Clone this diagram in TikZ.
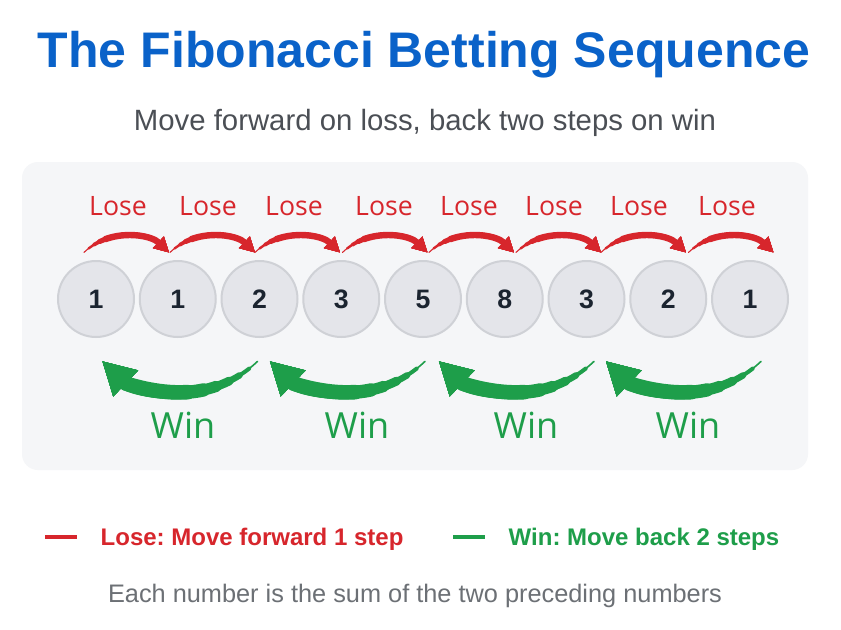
\documentclass[tikz,border=0pt]{standalone}
\usepackage{fontspec}
\setmainfont{Liberation Sans}
\newfontfamily\opensans{Open Sans}
\usetikzlibrary{arrows.meta}

\definecolor{titleBlue}{HTML}{0A62C9}
\definecolor{subInk}{HTML}{4B4F55}
\definecolor{footInk}{HTML}{6C7075}
\definecolor{panelFill}{HTML}{F5F6F8}
\definecolor{ballFill}{HTML}{E4E5EA}
\definecolor{ballLine}{HTML}{CFD1D6}
\definecolor{numInk}{HTML}{1B2430}
\definecolor{loseRed}{HTML}{D7262C}
\definecolor{winGreen}{HTML}{1E9E4A}

\begin{document}
\frenchspacing
\begin{tikzpicture}[x=0.75pt,y=0.75pt,
        numNode/.style = {circle,fill=ballFill,draw=ballLine,line width=1.5pt,minimum size=57pt,inner sep=0pt,
                          text=numInk,font=\fontsize{20}{20}\selectfont\bfseries},
        loseLabel/.style = {anchor=base,text=loseRed,font=\opensans\fontsize{20}{20}\selectfont},
        winLabel/.style = {anchor=base,text=winGreen,font=\opensans\fontsize{27}{27}\selectfont},
        loseArrow/.style = {draw=loseRed,line cap=round,-{Triangle[length=11pt,width=12pt,line width=0.3pt]}},
        winArrow/.style = {draw=winGreen,line cap=round,-{Triangle[length=24pt,width=27pt,line width=0.3pt]}},
        legendText/.style = {anchor=base west,font=\fontsize{18}{18}\selectfont\bfseries},
        swatch/.style = {line width=2.5pt}
        ]
        \useasboundingbox (0,0) rectangle (841,-629);
        \fill[white] (0,0) rectangle (841,-629);
        \fill[panelFill,rounded corners=12pt] (22,-162) rectangle (808,-470);

        % heading
        \node[anchor=base,text=titleBlue,font=\fontsize{37.5}{40}\selectfont\bfseries] (title) at (424,-67)
            {The Fibonacci Betting Sequence};
        \node[anchor=base,text=subInk,font=\fontsize{22}{24}\selectfont] (subtitle) at (425,-130)
            {Move forward on loss, back two steps on win};

        % the sequence
        \foreach \v [count=\i from 0] in {1,1,2,3,5,8,3,2,1}
            \node[numNode] (n\i) at (96+81.75*\i,-299) {\v};

        % lose arrows, tapered from thin tail to thick head
        \foreach \tx/\hx/\lx [count=\i] in {85/168/118,172/253/208,257/338/294,343/427/384,
                                             430/513/469,517/600/554,602/685/639,690/772/727} {
            \coordinate (lc\i) at ({(\tx+\hx)/2},-297);
            \node[loseLabel] (lose\i) at (\lx,-215) {Lose};
            \foreach \w/\a in {0.8/133.6,1.8/128,2.8/122,3.8/116,4.8/110}
                \draw[loseArrow,line width=\w pt] ([shift={(\a:61.6)}]lc\i) arc[start angle=\a,end angle=46.4,radius=61.6];
        }

        % win arrows
        \foreach \tx/\hx/\lx [count=\i] in {258/102/183,425/270/357,593/440/526,760/607/688} {
            \coordinate (wc\i) at ({(\tx+\hx)/2},-280);
            \node[winLabel] (win\i) at (\lx,-438) {Win};
            \foreach \w/\a in {1.2/-46.4,3/-52,4.8/-58,6.6/-64,8.4/-71,10/-78,11/-86}
                \draw[winArrow,line width=\w pt] ([shift={(\a:112.4)}]wc\i) arc[start angle=\a,end angle=-133.6,radius=112.4];
        }

        % legend
        \node[legendText,text=loseRed] (loseKey) at (96,-545) {Lose: Move forward 1 step};
        \coordinate (loseA) at (45,-537);
        \coordinate (loseB) at (77,-537);
        \draw[swatch,loseRed] (loseA) -- (loseB);
        \node[legendText,text=winGreen] (winKey) at (504,-545) {Win: Move back 2 steps};
        \coordinate (winA) at (453,-537);
        \coordinate (winB) at (485,-537);
        \draw[swatch,winGreen] (winA) -- (winB);

        \node[anchor=base,text=footInk,font=\fontsize{19}{22}\selectfont] (footer) at (415,-602)
            {Each number is the sum of the two preceding numbers};
\end{tikzpicture}
\end{document}
